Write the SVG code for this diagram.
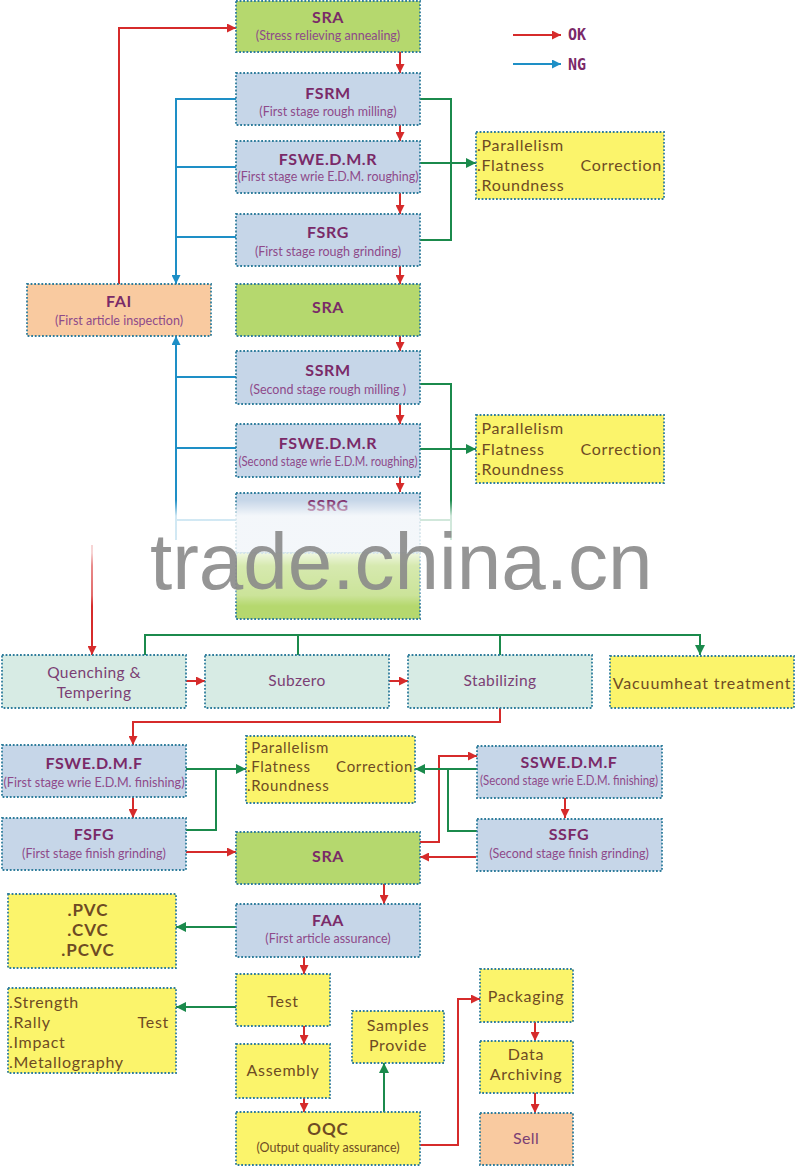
<svg xmlns="http://www.w3.org/2000/svg" width="800" height="1168" viewBox="0 0 800 1168">
<style>
.bx{stroke:#2f7d9c;stroke-width:1.8;stroke-dasharray:1.8 1.8}
.blue{fill:#c6d6e8}.green{fill:#b5d86e}.yellow{fill:#fbf46b}.peach{fill:#f9caa0}.heat{fill:#d7ebe4}
.t{font-family:Lato,"Open Sans","DejaVu Sans",sans-serif;font-weight:bold;font-size:16px;fill:#7a2a68;text-anchor:middle;letter-spacing:0.6px}
.s{font-family:Lato,"Open Sans","DejaVu Sans",sans-serif;font-size:12.5px;fill:#8e4a8a;text-anchor:middle}
.h{font-family:Lato,"Open Sans","DejaVu Sans",sans-serif;font-size:15.5px;fill:#7b3f74;text-anchor:middle;letter-spacing:0.4px}
.y{font-family:Lato,"Open Sans","DejaVu Sans",sans-serif;font-size:16px;fill:#6e4b24;letter-spacing:0.7px}
.yb{font-family:Lato,"Open Sans","DejaVu Sans",sans-serif;font-size:17px;font-weight:bold;fill:#6e4b24;text-anchor:middle;letter-spacing:1px}
.lg{font-family:"DejaVu Sans Mono","Liberation Mono",monospace;font-weight:bold;font-size:15px;fill:#7a2a68}
.r{stroke:#d62b2b;stroke-width:2;fill:none}
.b{stroke:#1e8fc6;stroke-width:2;fill:none}
.g{stroke:#1b8a4c;stroke-width:2;fill:none}
</style>
<defs>
<marker id="ar" viewBox="0 0 10 10" refX="10" refY="5" markerWidth="9" markerHeight="9" markerUnits="userSpaceOnUse" orient="auto"><path d="M0,0L10,5L0,10z" fill="#d62b2b"/></marker>
<marker id="ab" viewBox="0 0 10 10" refX="10" refY="5" markerWidth="9" markerHeight="9" markerUnits="userSpaceOnUse" orient="auto"><path d="M0,0L10,5L0,10z" fill="#1e8fc6"/></marker>
<marker id="ag" viewBox="0 0 10 10" refX="10" refY="5" markerWidth="10" markerHeight="10" markerUnits="userSpaceOnUse" orient="auto"><path d="M0,0L10,5L0,10z" fill="#1b8a4c"/></marker>
<linearGradient id="fade" gradientUnits="userSpaceOnUse" x1="0" y1="500" x2="0" y2="606">
<stop offset="0" stop-color="#fff" stop-opacity="0"/>
<stop offset="0.15" stop-color="#fff" stop-opacity="0.8"/>
<stop offset="0.5" stop-color="#fff" stop-opacity="0.8"/>
<stop offset="0.62" stop-color="#fff" stop-opacity="0.45"/>
<stop offset="0.9" stop-color="#fff" stop-opacity="0.3"/>
<stop offset="1" stop-color="#fff" stop-opacity="0"/>
</linearGradient>
</defs>
<rect width="800" height="1168" fill="#fff"/>

<g id="connectors">
<path class="r" d="M119,284V28H236" marker-end="url(#ar)"/>
<path class="r" d="M400,52V73" marker-end="url(#ar)"/>
<path class="r" d="M400,125V141" marker-end="url(#ar)"/>
<path class="r" d="M400,193V214" marker-end="url(#ar)"/>
<path class="r" d="M400,266V284" marker-end="url(#ar)"/>
<path class="r" d="M400,336V351" marker-end="url(#ar)"/>
<path class="r" d="M400,404V424" marker-end="url(#ar)"/>
<path class="r" d="M400,477V492" marker-end="url(#ar)"/>
<path class="r" d="M92,545V655" marker-end="url(#ar)"/>
<path class="r" d="M186,681H205" marker-end="url(#ar)"/>
<path class="r" d="M389,681H408" marker-end="url(#ar)"/>
<path class="r" d="M500,708V722H133V745" marker-end="url(#ar)"/>
<path class="r" d="M133,797V818" marker-end="url(#ar)"/>
<path class="r" d="M186,852H236" marker-end="url(#ar)"/>
<path class="r" d="M420,842H439V756H477" marker-end="url(#ar)"/>
<path class="r" d="M565,797V818" marker-end="url(#ar)"/>
<path class="r" d="M476,857H420" marker-end="url(#ar)"/>
<path class="r" d="M384,884V904" marker-end="url(#ar)"/>
<path class="r" d="M304,957V974" marker-end="url(#ar)"/>
<path class="r" d="M304,1026V1044" marker-end="url(#ar)"/>
<path class="r" d="M304,1098V1112" marker-end="url(#ar)"/>
<path class="r" d="M420,1145H458V999H480" marker-end="url(#ar)"/>
<path class="r" d="M535,1022V1041" marker-end="url(#ar)"/>
<path class="r" d="M535,1093V1113" marker-end="url(#ar)"/>
<path class="r" d="M513,35H561" marker-end="url(#ar)"/>

<path class="b" d="M236,99H176V284" marker-end="url(#ab)"/>
<path class="b" d="M236,167H176"/>
<path class="b" d="M236,237H176"/>
<path class="b" d="M176,540V336" marker-end="url(#ab)"/>
<path class="b" d="M236,377H176"/>
<path class="b" d="M236,448H176"/>
<path class="b" d="M236,520H176"/>
<path class="b" d="M513,64H561" marker-end="url(#ab)"/>

<path class="g" d="M420,99H451V240H420"/>
<path class="g" d="M420,163H476" marker-end="url(#ag)"/>
<path class="g" d="M420,384H451V540"/>
<path class="g" d="M451,520H420"/>
<path class="g" d="M420,449H476" marker-end="url(#ag)"/>
<path class="g" d="M145,655V635H700V655" marker-end="url(#ag)"/>
<path class="g" d="M298,655V635"/>
<path class="g" d="M500,655V635"/>
<path class="g" d="M186,769H246" marker-end="url(#ag)"/>
<path class="g" d="M186,830H216V769"/>
<path class="g" d="M477,769H415" marker-end="url(#ag)"/>
<path class="g" d="M477,831H448V769"/>
<path class="g" d="M236,927H176" marker-end="url(#ag)"/>
<path class="g" d="M236,1007H176" marker-end="url(#ag)"/>
<path class="g" d="M384,1112V1063" marker-end="url(#ag)"/>
</g>

<g id="legend">
<text class="lg" x="568" y="40">OK</text>
<text class="lg" x="568" y="70">NG</text>
</g>

<g id="sra1"><rect class="bx green" x="236" y="1" width="184" height="51"/><text class="t" x="328" y="23">SRA</text><text class="s" x="328" y="40">(Stress relieving annealing)</text></g>
<g id="fsrm"><rect class="bx blue" x="236" y="73" width="184" height="52"/><text class="t" x="328" y="99">FSRM</text><text class="s" x="328" y="116">(First stage rough milling)</text></g>
<g id="fswedmr1"><rect class="bx blue" x="236" y="141" width="184" height="52"/><text class="t" x="328" y="165">FSWE.D.M.R</text><text class="s" x="328" y="181" textLength="181" lengthAdjust="spacingAndGlyphs">(First stage wrie E.D.M. roughing)</text></g>
<g id="fsrg"><rect class="bx blue" x="236" y="214" width="184" height="52"/><text class="t" x="328" y="238">FSRG</text><text class="s" x="328" y="256">(First stage rough grinding)</text></g>
<g id="fai"><rect class="bx peach" x="27" y="284" width="184" height="52"/><text class="t" x="119" y="307">FAI</text><text class="s" x="119" y="325">(First article inspection)</text></g>
<g id="sra2"><rect class="bx green" x="236" y="284" width="184" height="52"/><text class="t" x="328" y="313">SRA</text></g>
<g id="ssrm"><rect class="bx blue" x="236" y="351" width="184" height="53"/><text class="t" x="328" y="376">SSRM</text><text class="s" x="328" y="394">(Second  stage rough milling )</text></g>
<g id="fswedmr2"><rect class="bx blue" x="236" y="424" width="184" height="53"/><text class="t" x="328" y="449">FSWE.D.M.R</text><text class="s" x="328" y="466" textLength="179" lengthAdjust="spacingAndGlyphs">(Second stage wrie E.D.M. roughing)</text></g>
<g id="corr1"><rect class="bx yellow" x="476" y="132" width="188" height="67"/><text class="y" x="477" y="151">.Parallelism</text><text class="y" x="477" y="171">.Flatness</text><text class="y" x="662" y="171" text-anchor="end">Correction</text><text class="y" x="477" y="191">.Roundness</text></g>
<g id="corr2"><rect class="bx yellow" x="476" y="415" width="188" height="68"/><text class="y" x="477" y="434">.Parallelism</text><text class="y" x="477" y="455">.Flatness</text><text class="y" x="662" y="455" text-anchor="end">Correction</text><text class="y" x="477" y="475">.Roundness</text></g>
<g id="ssrg"><rect class="bx blue" x="236" y="493" width="184" height="60"/><text class="t" x="328" y="511">SSRG</text></g>
<g id="sra3"><rect class="bx green" x="236" y="553" width="184" height="66"/></g>

<rect x="0" y="500" width="800" height="106" fill="url(#fade)"/>
<text x="150" y="589" font-family="'Liberation Sans',Arial,sans-serif" font-size="80" fill="#8a8a8a" fill-opacity="0.9">trade.china.cn</text>

<g id="quench"><rect class="bx heat" x="2" y="655" width="184" height="53"/><text class="h" x="94" y="678">Quenching &amp;</text><text class="h" x="94" y="698">Tempering</text></g>
<g id="subzero"><rect class="bx heat" x="205" y="655" width="184" height="53"/><text class="h" x="297" y="686">Subzero</text></g>
<g id="stab"><rect class="bx heat" x="408" y="655" width="184" height="53"/><text class="h" x="500" y="686">Stabilizing</text></g>
<g id="vacuum"><rect class="bx yellow" x="610" y="656" width="184" height="52"/><text class="y" x="702" y="689" text-anchor="middle" style="letter-spacing:0.9px">Vacuumheat treatment</text></g>

<g id="fswedmf"><rect class="bx blue" x="2" y="745" width="184" height="52"/><text class="t" x="94" y="769">FSWE.D.M.F</text><text class="s" x="94" y="787" textLength="181" lengthAdjust="spacingAndGlyphs">(First stage wrie E.D.M. finishing)</text></g>
<g id="fsfg"><rect class="bx blue" x="2" y="818" width="184" height="52"/><text class="t" x="94" y="840">FSFG</text><text class="s" x="94" y="858">(First stage finish  grinding)</text></g>
<g id="corr3"><rect class="bx yellow" x="246" y="736" width="169" height="67"/><text class="y" x="247" y="753" style="font-size:15px">.Parallelism</text><text class="y" x="247" y="772" style="font-size:15px">.Flatness</text><text class="y" x="413" y="772" text-anchor="end" style="font-size:15px">Correction</text><text class="y" x="247" y="791" style="font-size:15px">.Roundness</text></g>
<g id="sra4"><rect class="bx green" x="236" y="832" width="184" height="52"/><text class="t" x="328" y="862">SRA</text></g>
<g id="sswedmf"><rect class="bx blue" x="477" y="746" width="185" height="52"/><text class="t" x="569" y="768">SSWE.D.M.F</text><text class="s" x="569" y="785" textLength="178" lengthAdjust="spacingAndGlyphs">(Second stage wrie E.D.M. finishing)</text></g>
<g id="ssfg"><rect class="bx blue" x="477" y="819" width="185" height="52"/><text class="t" x="569" y="840">SSFG</text><text class="s" x="569" y="858">(Second stage finish  grinding)</text></g>

<g id="faa"><rect class="bx blue" x="236" y="904" width="184" height="53"/><text class="t" x="328" y="926">FAA</text><text class="s" x="328" y="943">(First article assurance)</text></g>
<g id="pvc"><rect class="bx yellow" x="8" y="894" width="168" height="74"/><text class="yb" x="88" y="916">.PVC</text><text class="yb" x="88" y="936">.CVC</text><text class="yb" x="88" y="956">.PCVC</text></g>
<g id="test"><rect class="bx yellow" x="236" y="974" width="94" height="52"/><text class="y" x="283" y="1007" text-anchor="middle">Test</text></g>
<g id="strength"><rect class="bx yellow" x="8" y="988" width="168" height="85"/><text class="y" x="9" y="1008">.Strength</text><text class="y" x="169" y="1028" text-anchor="end">Test</text><text class="y" x="9" y="1028">.Rally</text><text class="y" x="9" y="1048">.Impact</text><text class="y" x="9" y="1068">.Metallography</text></g>
<g id="assembly"><rect class="bx yellow" x="236" y="1044" width="94" height="54"/><text class="y" x="283" y="1076" text-anchor="middle">Assembly</text></g>
<g id="oqc"><rect class="bx yellow" x="236" y="1112" width="184" height="53"/><text class="yb" x="328" y="1135">OQC</text><text class="s" x="328" y="1152" style="fill:#6e4b24">(Output quality assurance)</text></g>
<g id="samples"><rect class="bx yellow" x="352" y="1011" width="92" height="52"/><text class="y" x="398" y="1031" text-anchor="middle">Samples</text><text class="y" x="398" y="1051" text-anchor="middle">Provide</text></g>
<g id="packaging"><rect class="bx yellow" x="480" y="969" width="93" height="53"/><text class="y" x="526" y="1002" text-anchor="middle">Packaging</text></g>
<g id="archiving"><rect class="bx yellow" x="480" y="1041" width="93" height="52"/><text class="y" x="526" y="1060" text-anchor="middle">Data</text><text class="y" x="526" y="1080" text-anchor="middle">Archiving</text></g>
<g id="sell"><rect class="bx peach" x="480" y="1113" width="93" height="52"/><text class="h" x="526" y="1144" style="font-size:16px">Sell</text></g>
</svg>
